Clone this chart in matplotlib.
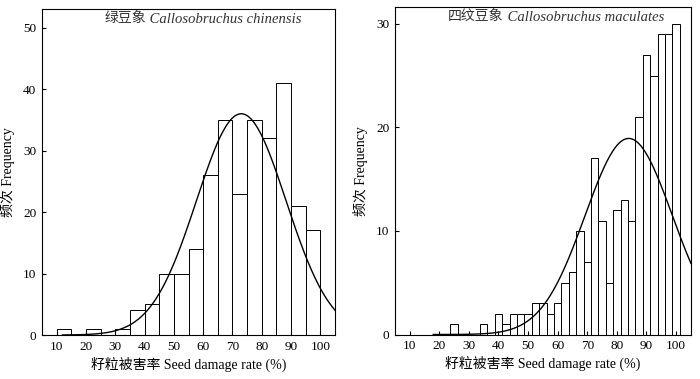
import numpy as np
import matplotlib
matplotlib.use("Agg")
import matplotlib.pyplot as plt

plt.rcParams["font.family"] = ["Liberation Serif", "Noto Sans CJK SC"]
plt.rcParams["font.size"] = 9.5

# ── Callosobruchus chinensis: bin left edges (width 5) and counts ───────────
CHI_EDGES = [10, 20, 30, 35, 40, 45, 50, 55, 60, 65, 70, 75, 80, 85, 90, 95]
CHI_COUNTS = [1, 1, 1, 4, 5, 10, 10, 14, 26, 35, 23, 35, 32, 41, 21, 17]
CHI_WIDTH = 5
CHI_MU, CHI_SD = 73.0, 15.3

# ── Callosobruchus maculates: bin centres (width 2.5) and counts ────────────
MAC_CENTERS = [25, 35, 40, 42.5, 45, 47.5, 50, 52.5, 55, 57.5, 60, 62.5, 65,
               67.5, 70, 72.5, 75, 77.5, 80, 82.5, 85, 87.5, 90, 92.5, 95,
               97.5, 100]
MAC_COUNTS = [1, 1, 2, 1, 2, 2, 2, 3, 3, 2, 3, 5, 6, 10, 7, 17, 11, 5, 12, 13,
              11, 21, 27, 25, 29, 29, 30]
MAC_WIDTH = 2.5
MAC_MU, MAC_SD = 84.0, 14.75

X_TICKS = [10, 20, 30, 40, 50, 60, 70, 80, 90, 100]
XLABEL = "籽粒被害率 Seed damage rate (%)"
YLABEL = "频次 Frequency"


def normal_curve(x, n, width, mu, sd):
    return n * width * np.exp(-0.5 * ((x - mu) / sd) ** 2) / (sd * np.sqrt(2 * np.pi))


def style_axes(ax, ylim, yticks):
    ax.set_xlim(5, 105)
    ax.set_ylim(*ylim)
    ax.set_xticks(X_TICKS)
    ax.set_yticks(yticks)
    ax.tick_params(direction="in", length=3, width=0.8, pad=4)
    for sp in ax.spines.values():
        sp.set_linewidth(0.8)
    ax.set_xlabel(XLABEL, fontsize=10, labelpad=3)
    ax.set_ylabel(YLABEL, fontsize=10, labelpad=6)


def draw_title(ax, cn, latin, split):
    ax.text(split, 0.968, cn, transform=ax.transAxes, ha="right", va="center",
            fontsize=10, color="#333333")
    ax.text(split, 0.968, " " + latin, transform=ax.transAxes, ha="left",
            va="center", fontsize=10.5, style="italic", color="#333333")


fig = plt.figure(figsize=(7.0, 3.79), dpi=100)
ax1 = fig.add_axes([0.060, 0.116, 0.4186, 0.860])
ax2 = fig.add_axes([0.564, 0.1174, 0.423, 0.8635])

ax1.bar(CHI_EDGES, CHI_COUNTS, width=CHI_WIDTH, align="edge",
        facecolor="white", edgecolor="black", linewidth=0.7)
x1 = np.linspace(12, 105, 300)
ax1.plot(x1, normal_curve(x1, sum(CHI_COUNTS), CHI_WIDTH, CHI_MU, CHI_SD),
         color="black", linewidth=1.0)
style_axes(ax1, (0, 53), [0, 10, 20, 30, 40, 50])
draw_title(ax1, "绿豆象", "Callosobruchus chinensis", 0.355)

ax2.bar(MAC_CENTERS, MAC_COUNTS, width=MAC_WIDTH, align="center",
        facecolor="white", edgecolor="black", linewidth=0.7)
x2 = np.linspace(18, 105, 300)
ax2.plot(x2, normal_curve(x2, sum(MAC_COUNTS), MAC_WIDTH, MAC_MU, MAC_SD),
         color="black", linewidth=1.0)
style_axes(ax2, (0, 31.6), [0, 10, 20, 30])
draw_title(ax2, "四纹豆象", "Callosobruchus maculates", 0.368)

fig.savefig("out.png", dpi=100)
